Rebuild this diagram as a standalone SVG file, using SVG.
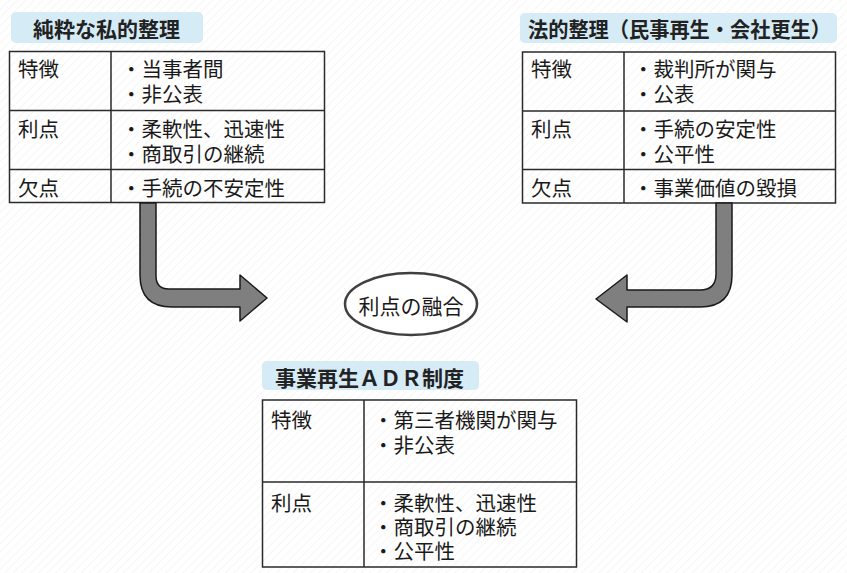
<svg xmlns="http://www.w3.org/2000/svg" width="847" height="573" viewBox="0 0 847 573">
<style>
text{font-family:"Noto Sans CJK JP","Noto Sans CJK SC",sans-serif;fill:#1a1a1a;}
.t{font-size:20.5px;}
.h{font-size:21px;font-weight:bold;fill:#222;}
.tb{fill:#d5ebf5;}
.cell{fill:none;stroke:#2a2a2a;stroke-width:1.5;}
.arr{fill:#7f7f7f;stroke:#1a1a1a;stroke-width:1.5;stroke-linejoin:round;}
</style>
<defs>
<pattern id="bg" width="6" height="6" patternUnits="userSpaceOnUse" patternTransform="rotate(45)">
<rect width="6" height="6" fill="#ffffff"/>
<line x1="0" y1="0" x2="0" y2="6" stroke="#f3f3f3" stroke-width="1.5"/>
</pattern>
</defs>
<rect width="847" height="573" fill="url(#bg)"/>

<g id="private">
<rect class="tb" x="11" y="12" width="192" height="31" rx="5"/>
<text class="h" x="33" y="37">純粋な私的整理</text>
<rect class="cell" x="9.5" y="51.5" width="315" height="151"/>
<line class="cell" x1="111" y1="51.5" x2="111" y2="202.5"/>
<line class="cell" x1="9.5" y1="110.5" x2="324.5" y2="110.5"/>
<line class="cell" x1="9.5" y1="169.5" x2="324.5" y2="169.5"/>
<text class="t" x="18" y="77">特徴</text>
<text class="t" x="121" y="77">・当事者間</text>
<text class="t" x="121" y="102">・非公表</text>
<text class="t" x="18" y="137">利点</text>
<text class="t" x="121" y="137">・柔軟性、迅速性</text>
<text class="t" x="121" y="162">・商取引の継続</text>
<text class="t" x="18" y="196">欠点</text>
<text class="t" x="121" y="196">・手続の不安定性</text>
</g>

<g id="legal">
<rect class="tb" x="520" y="13" width="317" height="30" rx="5"/>
<text class="h" x="528" y="37" textLength="303" lengthAdjust="spacingAndGlyphs">法的整理（民事再生・会社更生）</text>
<rect class="cell" x="522.5" y="52" width="313" height="151"/>
<line class="cell" x1="624" y1="52" x2="624" y2="203"/>
<line class="cell" x1="522.5" y1="111" x2="835.5" y2="111"/>
<line class="cell" x1="522.5" y1="169.5" x2="835.5" y2="169.5"/>
<text class="t" x="531" y="77">特徴</text>
<text class="t" x="633" y="77">・裁判所が関与</text>
<text class="t" x="633" y="102">・公表</text>
<text class="t" x="531" y="137">利点</text>
<text class="t" x="633" y="137">・手続の安定性</text>
<text class="t" x="633" y="162">・公平性</text>
<text class="t" x="531" y="196">欠点</text>
<text class="t" x="633" y="196">・事業価値の毀損</text>
</g>

<g id="fusion">
<ellipse cx="411" cy="304" rx="66" ry="31" fill="#ffffff" stroke="#404040" stroke-width="2.5"/>
<text x="411" y="314" font-size="21" text-anchor="middle">利点の融合</text>
</g>

<g id="adr">
<rect class="tb" x="262" y="361" width="217" height="29" rx="5"/>
<text class="h" x="275" y="386" textLength="189" lengthAdjust="spacingAndGlyphs">事業再生ＡＤＲ制度</text>
<rect class="cell" x="262.5" y="400" width="314" height="167"/>
<line class="cell" x1="364" y1="400" x2="364" y2="567"/>
<line class="cell" x1="262.5" y1="482" x2="576.5" y2="482"/>
<text class="t" x="271" y="428">特徴</text>
<text class="t" x="373" y="428">・第三者機関が関与</text>
<text class="t" x="373" y="453">・非公表</text>
<text class="t" x="271" y="511">利点</text>
<text class="t" x="373" y="511">・柔軟性、迅速性</text>
<text class="t" x="373" y="535">・商取引の継続</text>
<text class="t" x="373" y="559">・公平性</text>
</g>

<g id="connectors">
<path class="arr" d="M140,203 L156,203 L156,276 Q156,289 169,289 L240,289 L240,275 L267,298 L240,321 L240,307 L172,307 Q140,307 140,275 Z"/>
<path class="arr" d="M716,203 L732,203 L732,275 Q732,307 700,307 L627,307 L627,322 L596,299 L627,275 L627,290 L700,290 Q716,290 716,274 Z"/>
</g>
</svg>
